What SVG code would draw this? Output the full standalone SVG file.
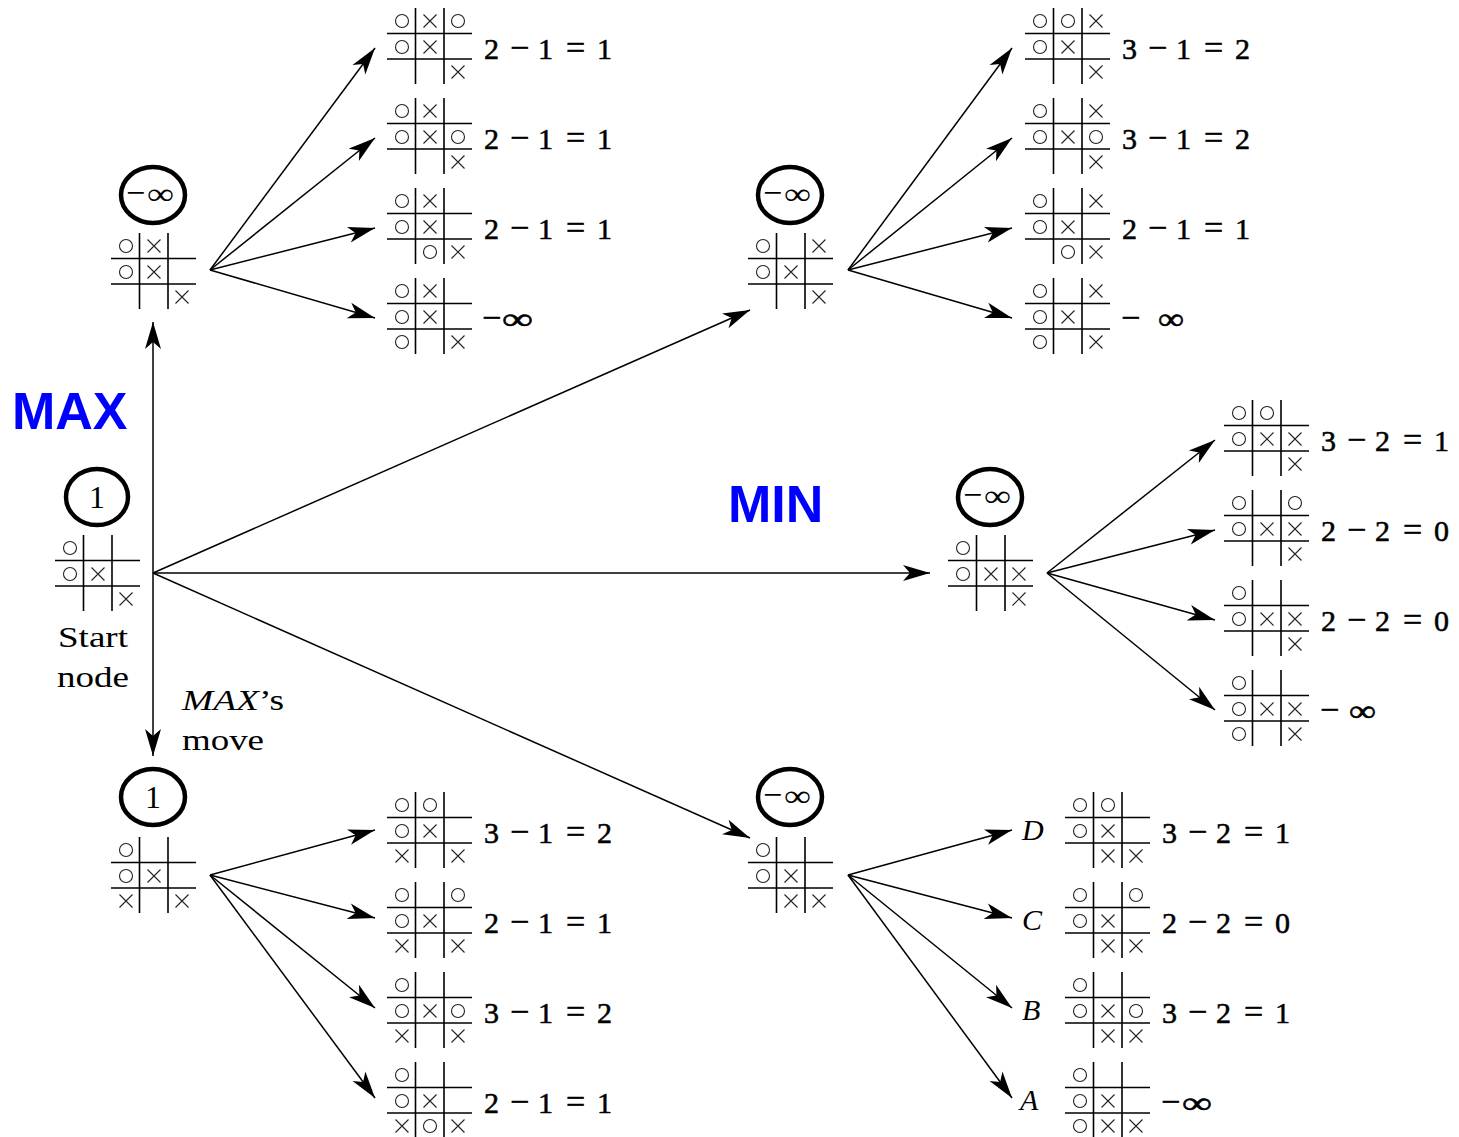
<svg xmlns="http://www.w3.org/2000/svg" width="1459" height="1137" viewBox="0 0 1459 1137">
<style>
.g{fill:none;stroke:#000;stroke-width:1.6}
.sym{fill:none;stroke:#222;stroke-width:1.1}
.val{fill:#fff;stroke:#000;stroke-width:4.5}
text{font-family:'Liberation Serif','Times New Roman',Times,serif;fill:#000}
.t{font-size:30px}
.e{font-size:30px;stroke:#000;stroke-width:0.55}
.op{font-size:34px}
.inf{font-size:30px}
.ct{font-size:32px;text-anchor:middle}
.ci{font-size:28px}
.it{font-style:italic}
.big{font-family:'Liberation Sans',Arial,sans-serif;font-weight:bold;font-size:52px;fill:#0000ff}
.c{fill:none;stroke:#000;stroke-width:1.5}
</style>
<defs>
<marker id="ah" markerUnits="userSpaceOnUse" viewBox="-27 -9 28 18" markerWidth="28" markerHeight="18" refX="0" refY="0" orient="auto-start-reverse">
<path d="M0 0L-27 -8L-20 0L-27 8Z" fill="#000"/>
</marker>
<path id="grid" class="g" d="M0 25.5H85M0 51H85M28.5 0V76M57 0V76"/>
<circle id="o" class="sym" r="6.5"/>
<path id="x" class="sym" d="M-6.5 -6.5L6.5 6.5M6.5 -6.5L-6.5 6.5"/>
</defs>
<rect width="1459" height="1137" fill="#fff"/>

<g id="connectors">
<path class="c" d="M153 322V756" marker-start="url(#ah)" marker-end="url(#ah)"/>
<path class="c" d="M153 573L750 310" marker-end="url(#ah)"/>
<path class="c" d="M153 573L930 573" marker-end="url(#ah)"/>
<path class="c" d="M153 573L750 838" marker-end="url(#ah)"/>
<path class="c" d="M210 270L375 48" marker-end="url(#ah)"/>
<path class="c" d="M210 270L375 138" marker-end="url(#ah)"/>
<path class="c" d="M210 270L375 228" marker-end="url(#ah)"/>
<path class="c" d="M210 270L375 318" marker-end="url(#ah)"/>
<path class="c" d="M848 270L1012 48" marker-end="url(#ah)"/>
<path class="c" d="M848 270L1012 138" marker-end="url(#ah)"/>
<path class="c" d="M848 270L1012 228" marker-end="url(#ah)"/>
<path class="c" d="M848 270L1012 318" marker-end="url(#ah)"/>
<path class="c" d="M1047 573L1215 440" marker-end="url(#ah)"/>
<path class="c" d="M1047 573L1215 530" marker-end="url(#ah)"/>
<path class="c" d="M1047 573L1215 620" marker-end="url(#ah)"/>
<path class="c" d="M1047 573L1215 710" marker-end="url(#ah)"/>
<path class="c" d="M210 875L375 830" marker-end="url(#ah)"/>
<path class="c" d="M210 875L375 918" marker-end="url(#ah)"/>
<path class="c" d="M210 875L375 1008" marker-end="url(#ah)"/>
<path class="c" d="M210 875L375 1098" marker-end="url(#ah)"/>
<path class="c" d="M848 875L1012 830" marker-end="url(#ah)"/>
<path class="c" d="M848 875L1012 918" marker-end="url(#ah)"/>
<path class="c" d="M848 875L1012 1008" marker-end="url(#ah)"/>
<path class="c" d="M848 875L1012 1098" marker-end="url(#ah)"/>
</g>

<text class="big" x="12" y="429">MAX</text>
<text class="big" x="728" y="522">MIN</text>

<!-- Start node -->
<g id="start">
<ellipse class="val" cx="97" cy="497" rx="31" ry="28"/>
<text class="ct" x="97" y="508">1</text>
<g transform="translate(55,535)"><use href="#grid"/><use href="#o" x="15" y="13"/><use href="#o" x="15" y="39"/><use href="#x" x="43" y="39"/><use href="#x" x="71" y="64"/></g>
<text class="t" x="93" y="647" text-anchor="middle" font-size="33" textLength="70" lengthAdjust="spacingAndGlyphs">Start</text>
<text class="t" x="93" y="687" text-anchor="middle" font-size="33" textLength="72" lengthAdjust="spacingAndGlyphs">node</text>
<text class="t" x="182" y="710" textLength="102" lengthAdjust="spacingAndGlyphs"><tspan class="it">MAX</tspan>’s</text>
<text class="t" x="182" y="750" textLength="82" lengthAdjust="spacingAndGlyphs">move</text>
</g>

<!-- Top-left MIN node -->
<g id="n_tl">
<ellipse class="val" cx="153" cy="195" rx="32" ry="28"/>
<text class="ci" y="204"><tspan class="op" x="126">−</tspan><tspan class="inf" x="147" textLength="27" lengthAdjust="spacingAndGlyphs">∞</tspan></text>
<g transform="translate(111,233)"><use href="#grid"/><use href="#o" x="15" y="13"/><use href="#x" x="43" y="13"/><use href="#o" x="15" y="39"/><use href="#x" x="43" y="39"/><use href="#x" x="71" y="64"/></g>
</g>
<g id="n_tl1"><g transform="translate(387,8)"><use href="#grid"/><use href="#o" x="15" y="13"/><use href="#x" x="43" y="13"/><use href="#o" x="71" y="13"/><use href="#o" x="15" y="39"/><use href="#x" x="43" y="39"/><use href="#x" x="71" y="64"/></g>
<text class="e" y="59"><tspan x="484">2</tspan><tspan class="op" x="510">−</tspan><tspan x="538">1</tspan><tspan class="op" x="566">=</tspan><tspan x="597">1</tspan></text></g>
<g id="n_tl2"><g transform="translate(387,98)"><use href="#grid"/><use href="#o" x="15" y="13"/><use href="#x" x="43" y="13"/><use href="#o" x="15" y="39"/><use href="#x" x="43" y="39"/><use href="#o" x="71" y="39"/><use href="#x" x="71" y="64"/></g>
<text class="e" y="149"><tspan x="484">2</tspan><tspan class="op" x="510">−</tspan><tspan x="538">1</tspan><tspan class="op" x="566">=</tspan><tspan x="597">1</tspan></text></g>
<g id="n_tl3"><g transform="translate(387,188)"><use href="#grid"/><use href="#o" x="15" y="13"/><use href="#x" x="43" y="13"/><use href="#o" x="15" y="39"/><use href="#x" x="43" y="39"/><use href="#o" x="43" y="64"/><use href="#x" x="71" y="64"/></g>
<text class="e" y="239"><tspan x="484">2</tspan><tspan class="op" x="510">−</tspan><tspan x="538">1</tspan><tspan class="op" x="566">=</tspan><tspan x="597">1</tspan></text></g>
<g id="n_tl4"><g transform="translate(387,278)"><use href="#grid"/><use href="#o" x="15" y="13"/><use href="#x" x="43" y="13"/><use href="#o" x="15" y="39"/><use href="#x" x="43" y="39"/><use href="#o" x="15" y="64"/><use href="#x" x="71" y="64"/></g>
<text class="e" y="329"><tspan class="op" x="482">−</tspan><tspan class="inf" x="502" textLength="31" lengthAdjust="spacingAndGlyphs">∞</tspan></text></g>

<!-- Top-middle MIN node -->
<g id="n_tm">
<ellipse class="val" cx="790" cy="195" rx="32" ry="28"/>
<text class="ci" y="204"><tspan class="op" x="763">−</tspan><tspan class="inf" x="784" textLength="27" lengthAdjust="spacingAndGlyphs">∞</tspan></text>
<g transform="translate(748,233)"><use href="#grid"/><use href="#o" x="15" y="13"/><use href="#x" x="71" y="13"/><use href="#o" x="15" y="39"/><use href="#x" x="43" y="39"/><use href="#x" x="71" y="64"/></g>
</g>
<g id="n_tm1"><g transform="translate(1025,8)"><use href="#grid"/><use href="#o" x="15" y="13"/><use href="#o" x="43" y="13"/><use href="#x" x="71" y="13"/><use href="#o" x="15" y="39"/><use href="#x" x="43" y="39"/><use href="#x" x="71" y="64"/></g>
<text class="e" y="59"><tspan x="1122">3</tspan><tspan class="op" x="1148">−</tspan><tspan x="1176">1</tspan><tspan class="op" x="1204">=</tspan><tspan x="1235">2</tspan></text></g>
<g id="n_tm2"><g transform="translate(1025,98)"><use href="#grid"/><use href="#o" x="15" y="13"/><use href="#x" x="71" y="13"/><use href="#o" x="15" y="39"/><use href="#x" x="43" y="39"/><use href="#o" x="71" y="39"/><use href="#x" x="71" y="64"/></g>
<text class="e" y="149"><tspan x="1122">3</tspan><tspan class="op" x="1148">−</tspan><tspan x="1176">1</tspan><tspan class="op" x="1204">=</tspan><tspan x="1235">2</tspan></text></g>
<g id="n_tm3"><g transform="translate(1025,188)"><use href="#grid"/><use href="#o" x="15" y="13"/><use href="#x" x="71" y="13"/><use href="#o" x="15" y="39"/><use href="#x" x="43" y="39"/><use href="#o" x="43" y="64"/><use href="#x" x="71" y="64"/></g>
<text class="e" y="239"><tspan x="1122">2</tspan><tspan class="op" x="1148">−</tspan><tspan x="1176">1</tspan><tspan class="op" x="1204">=</tspan><tspan x="1235">1</tspan></text></g>
<g id="n_tm4"><g transform="translate(1025,278)"><use href="#grid"/><use href="#o" x="15" y="13"/><use href="#x" x="71" y="13"/><use href="#o" x="15" y="39"/><use href="#x" x="43" y="39"/><use href="#o" x="15" y="64"/><use href="#x" x="71" y="64"/></g>
<text class="e" y="329"><tspan class="op" x="1121">−</tspan><tspan class="inf" x="1158" textLength="26" lengthAdjust="spacingAndGlyphs">∞</tspan></text></g>

<!-- Middle MIN node -->
<g id="n_m">
<ellipse class="val" cx="990" cy="497" rx="32" ry="28"/>
<text class="ci" y="506"><tspan class="op" x="963">−</tspan><tspan class="inf" x="984" textLength="27" lengthAdjust="spacingAndGlyphs">∞</tspan></text>
<g transform="translate(948,535)"><use href="#grid"/><use href="#o" x="15" y="13"/><use href="#o" x="15" y="39"/><use href="#x" x="43" y="39"/><use href="#x" x="71" y="39"/><use href="#x" x="71" y="64"/></g>
</g>
<g id="n_m1"><g transform="translate(1224,400)"><use href="#grid"/><use href="#o" x="15" y="13"/><use href="#o" x="43" y="13"/><use href="#o" x="15" y="39"/><use href="#x" x="43" y="39"/><use href="#x" x="71" y="39"/><use href="#x" x="71" y="64"/></g>
<text class="e" y="451"><tspan x="1321">3</tspan><tspan class="op" x="1347">−</tspan><tspan x="1375">2</tspan><tspan class="op" x="1403">=</tspan><tspan x="1434">1</tspan></text></g>
<g id="n_m2"><g transform="translate(1224,490)"><use href="#grid"/><use href="#o" x="15" y="13"/><use href="#o" x="71" y="13"/><use href="#o" x="15" y="39"/><use href="#x" x="43" y="39"/><use href="#x" x="71" y="39"/><use href="#x" x="71" y="64"/></g>
<text class="e" y="541"><tspan x="1321">2</tspan><tspan class="op" x="1347">−</tspan><tspan x="1375">2</tspan><tspan class="op" x="1403">=</tspan><tspan x="1434">0</tspan></text></g>
<g id="n_m3"><g transform="translate(1224,580)"><use href="#grid"/><use href="#o" x="15" y="13"/><use href="#o" x="15" y="39"/><use href="#x" x="43" y="39"/><use href="#x" x="71" y="39"/><use href="#x" x="71" y="64"/></g>
<text class="e" y="631"><tspan x="1321">2</tspan><tspan class="op" x="1347">−</tspan><tspan x="1375">2</tspan><tspan class="op" x="1403">=</tspan><tspan x="1434">0</tspan></text></g>
<g id="n_m4"><g transform="translate(1224,670)"><use href="#grid"/><use href="#o" x="15" y="13"/><use href="#o" x="15" y="39"/><use href="#x" x="43" y="39"/><use href="#x" x="71" y="39"/><use href="#o" x="15" y="64"/><use href="#x" x="71" y="64"/></g>
<text class="e" y="721"><tspan class="op" x="1320">−</tspan><tspan class="inf" x="1349" textLength="27" lengthAdjust="spacingAndGlyphs">∞</tspan></text></g>

<!-- Bottom-left MAX node -->
<g id="n_bl">
<ellipse class="val" cx="153" cy="797" rx="32" ry="28"/>
<text class="ct" x="153" y="808">1</text>
<g transform="translate(111,837)"><use href="#grid"/><use href="#o" x="15" y="13"/><use href="#o" x="15" y="39"/><use href="#x" x="43" y="39"/><use href="#x" x="15" y="64"/><use href="#x" x="71" y="64"/></g>
</g>
<g id="n_bl1"><g transform="translate(387,792)"><use href="#grid"/><use href="#o" x="15" y="13"/><use href="#o" x="43" y="13"/><use href="#o" x="15" y="39"/><use href="#x" x="43" y="39"/><use href="#x" x="15" y="64"/><use href="#x" x="71" y="64"/></g>
<text class="e" y="843"><tspan x="484">3</tspan><tspan class="op" x="510">−</tspan><tspan x="538">1</tspan><tspan class="op" x="566">=</tspan><tspan x="597">2</tspan></text></g>
<g id="n_bl2"><g transform="translate(387,882)"><use href="#grid"/><use href="#o" x="15" y="13"/><use href="#o" x="71" y="13"/><use href="#o" x="15" y="39"/><use href="#x" x="43" y="39"/><use href="#x" x="15" y="64"/><use href="#x" x="71" y="64"/></g>
<text class="e" y="933"><tspan x="484">2</tspan><tspan class="op" x="510">−</tspan><tspan x="538">1</tspan><tspan class="op" x="566">=</tspan><tspan x="597">1</tspan></text></g>
<g id="n_bl3"><g transform="translate(387,972)"><use href="#grid"/><use href="#o" x="15" y="13"/><use href="#o" x="15" y="39"/><use href="#x" x="43" y="39"/><use href="#o" x="71" y="39"/><use href="#x" x="15" y="64"/><use href="#x" x="71" y="64"/></g>
<text class="e" y="1023"><tspan x="484">3</tspan><tspan class="op" x="510">−</tspan><tspan x="538">1</tspan><tspan class="op" x="566">=</tspan><tspan x="597">2</tspan></text></g>
<g id="n_bl4"><g transform="translate(387,1062)"><use href="#grid"/><use href="#o" x="15" y="13"/><use href="#o" x="15" y="39"/><use href="#x" x="43" y="39"/><use href="#x" x="15" y="64"/><use href="#o" x="43" y="64"/><use href="#x" x="71" y="64"/></g>
<text class="e" y="1113"><tspan x="484">2</tspan><tspan class="op" x="510">−</tspan><tspan x="538">1</tspan><tspan class="op" x="566">=</tspan><tspan x="597">1</tspan></text></g>

<!-- Bottom-middle MIN node -->
<g id="n_bm">
<ellipse class="val" cx="790" cy="797" rx="32" ry="28"/>
<text class="ci" y="806"><tspan class="op" x="763">−</tspan><tspan class="inf" x="784" textLength="27" lengthAdjust="spacingAndGlyphs">∞</tspan></text>
<g transform="translate(748,837)"><use href="#grid"/><use href="#o" x="15" y="13"/><use href="#o" x="15" y="39"/><use href="#x" x="43" y="39"/><use href="#x" x="43" y="64"/><use href="#x" x="71" y="64"/></g>
</g>
<g id="n_bmD"><text class="t it" x="1022" y="840">D</text>
<g transform="translate(1065,792)"><use href="#grid"/><use href="#o" x="15" y="13"/><use href="#o" x="43" y="13"/><use href="#o" x="15" y="39"/><use href="#x" x="43" y="39"/><use href="#x" x="43" y="64"/><use href="#x" x="71" y="64"/></g>
<text class="e" y="843"><tspan x="1162">3</tspan><tspan class="op" x="1188">−</tspan><tspan x="1216">2</tspan><tspan class="op" x="1244">=</tspan><tspan x="1275">1</tspan></text></g>
<g id="n_bmC"><text class="t it" x="1022" y="930">C</text>
<g transform="translate(1065,882)"><use href="#grid"/><use href="#o" x="15" y="13"/><use href="#o" x="71" y="13"/><use href="#o" x="15" y="39"/><use href="#x" x="43" y="39"/><use href="#x" x="43" y="64"/><use href="#x" x="71" y="64"/></g>
<text class="e" y="933"><tspan x="1162">2</tspan><tspan class="op" x="1188">−</tspan><tspan x="1216">2</tspan><tspan class="op" x="1244">=</tspan><tspan x="1275">0</tspan></text></g>
<g id="n_bmB"><text class="t it" x="1022" y="1020">B</text>
<g transform="translate(1065,972)"><use href="#grid"/><use href="#o" x="15" y="13"/><use href="#o" x="15" y="39"/><use href="#x" x="43" y="39"/><use href="#o" x="71" y="39"/><use href="#x" x="43" y="64"/><use href="#x" x="71" y="64"/></g>
<text class="e" y="1023"><tspan x="1162">3</tspan><tspan class="op" x="1188">−</tspan><tspan x="1216">2</tspan><tspan class="op" x="1244">=</tspan><tspan x="1275">1</tspan></text></g>
<g id="n_bmA"><text class="t it" x="1020" y="1110">A</text>
<g transform="translate(1065,1062)"><use href="#grid"/><use href="#o" x="15" y="13"/><use href="#o" x="15" y="39"/><use href="#x" x="43" y="39"/><use href="#o" x="15" y="64"/><use href="#x" x="43" y="64"/><use href="#x" x="71" y="64"/></g>
<text class="e" y="1113"><tspan class="op" x="1161">−</tspan><tspan class="inf" x="1182" textLength="30" lengthAdjust="spacingAndGlyphs">∞</tspan></text></g>
</svg>
